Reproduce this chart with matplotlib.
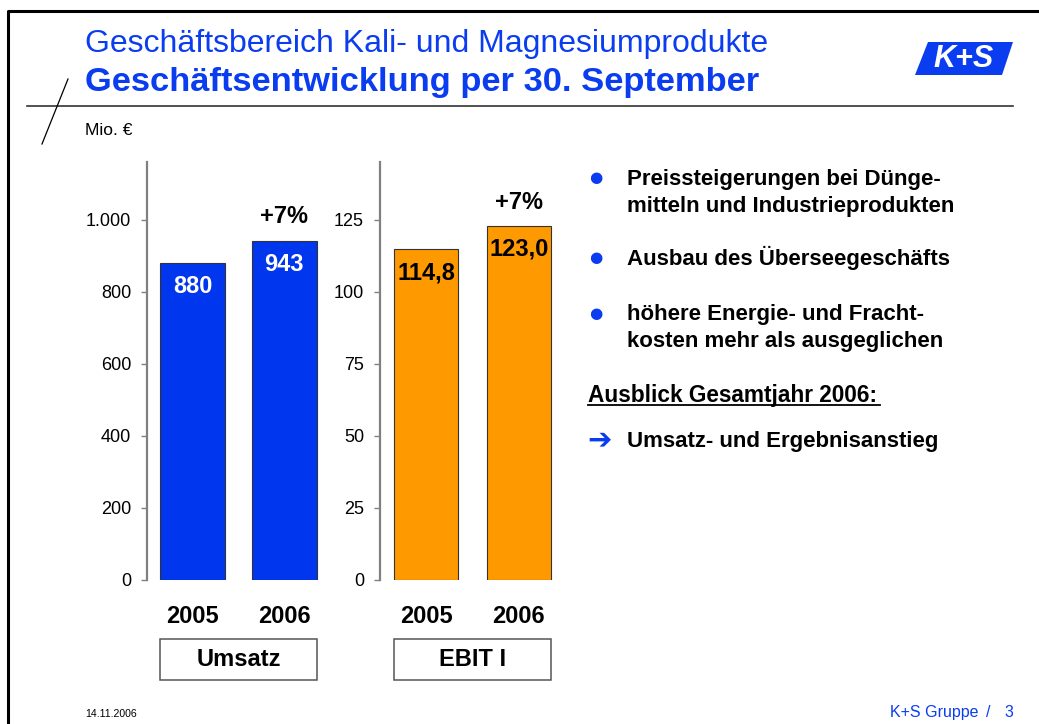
import numpy as np
import matplotlib.pyplot as plt
import matplotlib.transforms as mtransforms
from matplotlib.patches import Polygon, Rectangle
from matplotlib.lines import Line2D
from matplotlib.ticker import FuncFormatter

######## DATA ##########

years = ['2005', '2006']
umsatz = [880, 943]            # Mio. EUR
ebit = [114.8, 123.0]          # Mio. EUR
umsatz_ticks = [0, 200, 400, 600, 800, 1000]
ebit_ticks = [0, 25, 50, 75, 100, 125]
panel_names = ['Umsatz', 'EBIT I']

bullets = [
    ['Preissteigerungen bei Dünge-', 'mitteln und Industrieprodukten'],
    ['Ausbau des Überseegeschäfts'],
    ['höhere Energie- und Fracht-', 'kosten mehr als ausgeglichen'],
]
outlook_head = 'Ausblick Gesamtjahr 2006:'
outlook = 'Umsatz- und Ergebnisanstieg'

######## STYLE ##########

plt.rcParams['font.family'] = ['Liberation Sans', 'DejaVu Sans']
W, H = 1039, 724
BLUE_TXT = '#0a3cf0'
BLUE_BAR = '#0036ee'
ORANGE = '#ff9900'
AXGRAY = '#808080'


def fx(x):
    return x / W


def fy(y):
    return 1 - y / H


def de_int(v, pos=None):
    return f'{v:,.0f}'.replace(',', '.')


def de_dec(v):
    return f'{v:.1f}'.replace('.', ',')


fig = plt.figure(figsize=(W / 100, H / 100), dpi=100)
fig.patch.set_facecolor('white')

######## FRAME / HEADER ##########

fig.add_artist(Line2D([fx(8), fx(8), fx(1039)], [fy(724), fy(11), fy(11)],
                      color='black', lw=2.2))
fig.add_artist(Line2D([fx(27), fx(1013)], [fy(106), fy(106)],
                      color='#333333', lw=1.2))
fig.add_artist(Line2D([fx(68), fx(42)], [fy(79), fy(144)], color='black', lw=0.9))

fig.text(fx(85), fy(52), 'Geschäftsbereich Kali- und Magnesiumprodukte',
         color=BLUE_TXT, fontsize=23, va='baseline', ha='left')
fig.text(fx(85), fy(91), 'Geschäftsentwicklung per 30. September',
         color=BLUE_TXT, fontsize=24.8, fontweight='bold', va='baseline', ha='left')

# logo
logo = Polygon([[fx(928), fy(42)], [fx(1013), fy(42)], [fx(1002), fy(75)], [fx(915), fy(75)]],
               closed=True, transform=fig.transFigure, facecolor='#0a3cf0', edgecolor='none')
fig.add_artist(logo)
fig.text(fx(964), fy(59), 'K+S', color='white', fontsize=22, fontweight='bold',
         fontstyle='italic', ha='center', va='center')

fig.text(fx(85), fy(135), 'Mio. €', fontsize=12.5, va='baseline', ha='left')

######## CHARTS ##########


def panel(left, right, values, ticks, color, lblcolor, fmt, name, width):
    top_val = ticks[-1] * 418 / 360
    ax = fig.add_axes([fx(left), fy(580), fx(right - left), (580 - 162) / H])
    x = np.arange(len(values))
    ax.bar(x, values, width=width, color=color, edgecolor='#333333', linewidth=0.8)
    ax.set_xlim(-0.5, len(values) - 0.5)
    ax.set_ylim(0, top_val)
    ax.set_yticks(ticks)
    ax.yaxis.set_major_formatter(FuncFormatter(de_int))
    ax.tick_params(axis='y', length=4.5, width=1, color=AXGRAY, pad=7, labelsize=13)
    ax.set_xticks(x)
    ax.set_xticklabels(years, fontsize=17, fontweight='bold')
    ax.tick_params(axis='x', length=0, pad=18)
    for s in ['top', 'right', 'bottom']:
        ax.spines[s].set_visible(False)
    ax.spines['left'].set_color(AXGRAY)
    ax.spines['left'].set_linewidth(1.6)
    ax.patch.set_alpha(0)

    for xi, v in zip(x, values):
        ax.annotate(fmt(v), (xi, v), xytext=(0, -17), textcoords='offset points',
                    ha='center', va='center', fontsize=17, fontweight='bold', color=lblcolor)
    growth = (values[1] / values[0] - 1) * 100
    ax.annotate(f'+{growth:.0f}%', (x[1], values[1]), xytext=(0, 17), textcoords='offset points',
                ha='center', va='center', fontsize=17, fontweight='bold', color='black')

    # category box below years
    tr = mtransforms.blended_transform_factory(ax.transData, ax.transAxes)
    y0 = (580 - 680) / 418
    y1 = (580 - 639) / 418
    x0 = x[0] - width / 2
    x1 = x[-1] + width / 2
    ax.add_patch(Rectangle((x0, y0), x1 - x0, y1 - y0, transform=tr, fill=False,
                           edgecolor='#555555', lw=1.1, clip_on=False))
    ax.text((x0 + x1) / 2, (y0 + y1) / 2, name, transform=tr, ha='center', va='center',
            fontsize=17, fontweight='bold')
    return ax


panel(147, 330, umsatz, umsatz_ticks, BLUE_BAR, 'white', lambda v: de_int(v), panel_names[0], 0.71)
panel(380, 565, ebit, ebit_ticks, ORANGE, 'black', de_dec, panel_names[1], 0.69)

######## TEXT BLOCK ##########

baselines = [[185, 212], [265], [320, 347]]
for lines, bls in zip(bullets, baselines):
    fig.text(fx(596), fy(bls[0] - 7), '●', color=BLUE_TXT, fontsize=11,
             ha='center', va='center', family='DejaVu Sans')
    for txt, b in zip(lines, bls):
        fig.text(fx(627), fy(b), txt, fontsize=16, fontweight='bold', va='baseline', ha='left')

fig.text(fx(588), fy(402), outlook_head, fontsize=16.3, fontweight='bold', va='baseline', ha='left')
fig.add_artist(Line2D([fx(588), fx(880)], [fy(405), fy(405)], color='black', lw=1.3))

fig.text(fx(600), fy(440), '➔', color=BLUE_TXT, fontsize=21, ha='center', va='center',
         family='DejaVu Sans', fontweight='bold')
fig.text(fx(627), fy(447), outlook, fontsize=16, fontweight='bold', va='baseline', ha='left')

######## FOOTER ##########

fig.text(fx(85), fy(717), '14.11.2006', fontsize=7.6, va='baseline', ha='left')
fig.text(fx(890), fy(717), 'K+S Gruppe', fontsize=11.5, color=BLUE_TXT, va='baseline', ha='left')
fig.text(fx(988), fy(717), '/', fontsize=11.5, color=BLUE_TXT, va='baseline', ha='center')
fig.text(fx(1013), fy(717), '3', fontsize=11.5, color=BLUE_TXT, va='baseline', ha='right')

fig.savefig('out.png', dpi=100)
